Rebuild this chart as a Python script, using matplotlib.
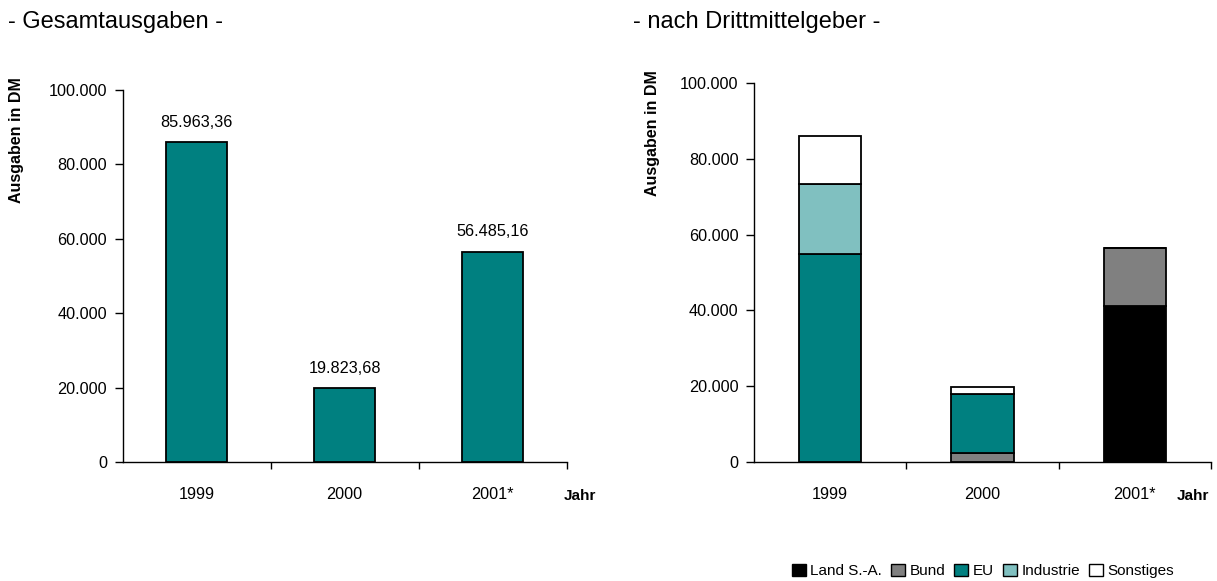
import matplotlib
matplotlib.use("Agg")
import matplotlib.pyplot as plt
from matplotlib.patches import Patch
from matplotlib import font_manager

# ---- data ----
years = ["1999", "2000", "2001*"]
totals = [85963.36, 19823.68, 56485.16]
total_labels = ["85.963,36", "19.823,68", "56.485,16"]

land = [0, 0, 41200]
bund = [0, 2300, 15285]
eu = [54900, 15700, 0]
industrie = [18400, 0, 0]
sonstiges = [12663, 1823, 0]

series_names = ["Land S.-A.", "Bund", "EU", "Industrie", "Sonstiges"]
series_values = [land, bund, eu, industrie, sonstiges]
series_colors = ["#000000", "#808080", "#008080", "#80C0C0", "#FFFFFF"]

yticks = [0, 20000, 40000, 60000, 80000, 100000]
ytick_labels = ["0", "20.000", "40.000", "60.000", "80.000", "100.000"]

# ---- fonts ----
names = {f.name for f in font_manager.fontManager.ttflist}
fam = ["Liberation Sans Narrow", "Liberation Sans", "DejaVu Sans"]
fam = [f for f in fam if f in names] or ["DejaVu Sans"]
plt.rcParams["font.family"] = fam

W, H = 1217, 581
fig = plt.figure(figsize=(W / 100, H / 100), dpi=100)


def fx(px):
    return px / W


def fy(py):
    return 1 - py / H


def style_axes(ax):
    for s in ["top", "right"]:
        ax.spines[s].set_visible(False)
    ax.spines["left"].set_linewidth(1.0)
    ax.spines["bottom"].set_linewidth(1.0)
    ax.set_ylim(0, 100000)
    ax.set_xlim(-0.5, 2.5)
    ax.set_yticks(yticks)
    ax.set_yticklabels(ytick_labels, fontsize=11.7)
    ax.tick_params(axis="y", direction="out", length=6, width=1, pad=5)
    ax.set_xticks(range(len(years)))
    ax.set_xticklabels(years, fontsize=11.7)
    ax.tick_params(axis="x", which="major", length=0, pad=18)
    ax.set_xticks([0.5, 1.5, 2.5], minor=True)
    ax.tick_params(axis="x", which="minor", direction="out", length=5, width=1)


x = range(len(years))

# ---- left chart ----
axL = fig.add_axes([fx(122.5), fy(462), fx(566.5 - 122.5), (462 - 90) / H])
axL.bar(x, totals, width=0.41, color="#008080", edgecolor="black", linewidth=1.3, zorder=3)
for xi, v, lab in zip(x, totals, total_labels):
    axL.annotate(lab, (xi, v), xytext=(0, 9), textcoords="offset points",
                 ha="center", va="bottom", fontsize=11.7)
style_axes(axL)

# ---- right chart ----
axR = fig.add_axes([fx(754), fy(462), fx(1211 - 754), (462 - 83) / H])
bottom = [0, 0, 0]
handles = []
for name, vals, col in zip(series_names, series_values, series_colors):
    axR.bar(x, vals, bottom=bottom, width=0.41, color=col, edgecolor="black",
            linewidth=1.3, zorder=3)
    bottom = [b + v for b, v in zip(bottom, vals)]
    handles.append(Patch(facecolor=col, edgecolor="black", linewidth=1.0, label=name))
style_axes(axR)

# ---- texts ----
fig.text(fx(8), fy(22), "- Gesamtausgaben -", fontsize=17, ha="left", va="center")
fig.text(fx(633), fy(22), "- nach Drittmittelgeber -", fontsize=17, ha="left", va="center")

fig.text(fx(17), fy(140), "Ausgaben in DM", rotation=90, fontsize=11.5,
         fontweight="bold", ha="center", va="center")
fig.text(fx(652), fy(133), "Ausgaben in DM", rotation=90, fontsize=11.5,
         fontweight="bold", ha="center", va="center")

fig.text(fx(580), fy(496), "Jahr", fontsize=11, fontweight="bold", ha="center", va="center")
fig.text(fx(1193), fy(496), "Jahr", fontsize=11, fontweight="bold", ha="center", va="center")

fig.legend(handles=handles, loc="center", bbox_to_anchor=(fx(983), fy(571)), ncol=5,
           frameon=False, fontsize=11, handlelength=0.9, handleheight=0.9,
           handletextpad=0.3, columnspacing=0.6, borderpad=0)

fig.savefig("out.png", dpi=100)
